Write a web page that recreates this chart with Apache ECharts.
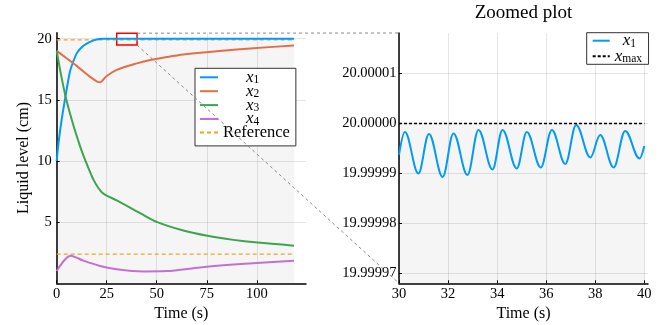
<!DOCTYPE html>
<html><head><meta charset="utf-8">
<script src="https://cdn.jsdelivr.net/npm/echarts@6/dist/echarts.min.js"></script>
<style>html,body{margin:0;padding:0;background:#fff}#c{width:665px;height:325px}</style>
</head><body><div id="c"></div>
<script>
const FONT = 'Liberation Serif';

// ---- Left plot data (Time s, level cm) ----
const tX1 = [0, 1, 2.5, 4.2, 6.6, 8, 10, 12.5, 15, 17.5, 20, 23, 30, 118.6];
const vX1 = [10, 11.6, 13.4, 15.1, 17.3, 18.0, 18.8, 19.3, 19.6, 19.8, 19.93, 19.99, 20, 20];
const tX2 = [0, 5, 10, 16.6, 20, 21.7, 23, 25, 30, 40, 46.7, 55, 63.3, 80, 96.7, 118.6];
const vX2 = [19.0, 18.4, 17.78, 16.9, 16.52, 16.44, 16.6, 16.95, 17.45, 17.98, 18.25, 18.5, 18.71, 18.98, 19.2, 19.45];
const tX3 = [0, 2, 4.4, 8, 11.7, 14.2, 18.3, 21, 22.8, 25, 30, 41.7, 50.3, 63.3, 75.3, 88.3, 100.3, 118.6];
const vX3 = [19.0, 17.2, 15.3, 13.1, 11.2, 10.1, 8.5, 7.75, 7.4, 7.17, 6.78, 5.74, 5.0, 4.31, 3.88, 3.55, 3.33, 3.08];
const tX4 = [0, 7, 13.3, 21.7, 30, 43.3, 55, 71.7, 88.3, 100, 118.6];
const vX4 = [1.0, 2.26, 1.85, 1.42, 1.15, 0.97, 1.0, 1.3, 1.53, 1.66, 1.84];
const tRef = [0, 118.6];
const refUpper = [19.9, 19.9];
const refLower = [2.38, 2.38];
const xMaxLevel = 20;
const leftXTicks = [0, 25, 50, 75, 100];
const leftYTicks = [5, 10, 15, 20];

// ---- Zoomed plot data (peaks / troughs) ----
const zoomT = [30, 30.24, 30.79, 31.22, 31.78, 32.22, 32.79, 33.24, 33.81, 34.22, 34.8, 35.21, 35.78, 36.23, 36.78, 37.22, 37.8, 38.2, 38.75, 39.22, 39.8, 40];
const zoomX1 = [19.9999937, 19.9999983, 19.99999, 19.9999979, 19.9999893, 19.999998, 19.9999897, 19.9999987, 19.9999908, 19.9999987, 19.999991, 19.9999983, 19.9999912, 19.9999987, 19.9999919, 19.9999997, 19.9999932, 19.9999977, 19.9999912, 19.9999985, 19.999993, 19.9999955];
const zoomTRange = [30, 40];
const zoomXTicks = [30, 32, 34, 36, 38, 40];
const zoomYTicks = [19.99997, 19.99998, 19.99999, 20.00000, 20.00001];
const zoomBox = { t0: 30, t1: 40.15, y0: 19.48, y1: 20.45 };

const pairs = (a, b) => a.map((v, i) => [v, b[i]]);
const colors = ['#009AFA', '#E36F47', '#3EA44E', '#C271D2'];
const refColor = '#EFA51E';

const chart = echarts.init(document.getElementById('c'), null, { renderer: 'canvas' });

const axisCommon = {
  axisLine: { show: true, onZero: false, lineStyle: { color: '#000', width: 1.5 } },
  axisTick: { show: true, inside: true, length: 3, lineStyle: { color: '#000', width: 1 } },
  splitLine: { show: true, lineStyle: { color: 'rgba(0,0,0,0.1)', width: 1 } },
  nameTextStyle: { fontFamily: FONT, fontSize: 16, color: '#000' },
};
const lab = (extra) => Object.assign({ fontFamily: FONT, fontSize: 14.5, color: '#000' }, extra);

const rich = {
  pad: { width: 23, lineHeight: 8 },
  padz: { width: 8, lineHeight: 8 },
  it: { fontFamily: FONT, fontStyle: 'italic', fontSize: 17, lineHeight: 8, color: '#000' },
  sub: { fontFamily: FONT, fontSize: 11.5, lineHeight: 4, padding: [6, 0, 0, 0], color: '#000' },
  rm: { fontFamily: FONT, fontSize: 16.5, lineHeight: 10, color: '#000' },
};
const legendText = {
  x1: '{pad|}{it|x}{sub|1}', x2: '{pad|}{it|x}{sub|2}', x3: '{pad|}{it|x}{sub|3}', x4: '{pad|}{it|x}{sub|4}',
  Reference: '{rm|Reference}', x1z: '{padz|}{it|x}{sub|1}', xmax: '{it|x}{sub|max}'
};

const lineSeries = (name, data, color, xi, extra) => Object.assign({
  name, type: 'line', xAxisIndex: xi, yAxisIndex: xi, data, symbol: 'none', showSymbol: false,
  smooth: 0.3, lineStyle: { color, width: 2 }, itemStyle: { color }, z: 3, silent: true
}, extra || {});

const legendBase = {
  orient: 'vertical', backgroundColor: '#fff', borderColor: '#333', borderWidth: 1, borderRadius: 0,
  selectedMode: false, formatter: n => legendText[n],
  itemStyle: { opacity: 0 },
  textStyle: { fontFamily: FONT, fontSize: 16.5, lineHeight: 10, color: '#000', rich }
};

const option = {
  animation: false,
  backgroundColor: '#fff',
  grid: [
    { left: 56.7, top: 32.7, width: 249.3, height: 250.6, containLabel: false, outerBoundsMode: 'none' },
    { left: 399, top: 33, width: 249, height: 250.3, containLabel: false, outerBoundsMode: 'none' }
  ],
  xAxis: [
    Object.assign({}, axisCommon, {
      type: 'value', gridIndex: 0, min: 0, max: 124.6,
      name: 'Time (s)', nameLocation: 'middle', nameGap: 18,
      axisLabel: lab({ margin: 3, customValues: leftXTicks }),
      axisTick: Object.assign({}, axisCommon.axisTick, { customValues: leftXTicks }),
    }),
    Object.assign({}, axisCommon, {
      type: 'value', gridIndex: 1, min: 30, max: 40.15,
      name: 'Time (s)', nameLocation: 'middle', nameGap: 18,
      axisLabel: lab({ margin: 3, customValues: zoomXTicks }),
      axisTick: Object.assign({}, axisCommon.axisTick, { customValues: zoomXTicks }),
    })
  ],
  yAxis: [
    Object.assign({}, axisCommon, {
      type: 'value', gridIndex: 0, min: 0, max: 20.49,
      name: 'Liquid level (cm)', nameLocation: 'middle', nameGap: 25,
      axisLabel: lab({ margin: 5, customValues: leftYTicks }),
      axisTick: Object.assign({}, axisCommon.axisTick, { customValues: leftYTicks }),
    }),
    Object.assign({}, axisCommon, {
      type: 'value', gridIndex: 1, min: 19.999968, max: 20.0000181, scale: true,
      axisLabel: lab({ margin: 2.5, customValues: zoomYTicks, formatter: v => Number(v).toFixed(5) }),
      axisTick: Object.assign({}, axisCommon.axisTick, { customValues: zoomYTicks }),
    })
  ],
  legend: [
    Object.assign({}, legendBase, {
      data: ['x1', 'x2', 'x3', 'x4', 'Reference'], left: 195, top: 68.3,
      itemWidth: 18, itemHeight: 13.9, itemGap: -4.1, padding: [0, 6, 5, 4]
    }),
    Object.assign({}, legendBase, {
      data: ['x1z', 'xmax'], left: 586.7, top: 32.7,
      itemWidth: 17, itemHeight: 15.6, itemGap: -2.4, padding: [-1, 6.5, -1, 5]
    })
  ],
  series: [
    {
      name: 'fillL', type: 'line', xAxisIndex: 0, yAxisIndex: 0, symbol: 'none', silent: true, z: 1,
      data: pairs(tRef, [xMaxLevel, xMaxLevel]), lineStyle: { width: 0, opacity: 0 },
      areaStyle: { color: 'rgba(0,0,0,0.055)', origin: 'start' }
    },
    lineSeries('x1', pairs(tX1, vX1), colors[0], 0, {
      markArea: {
        silent: true,
        itemStyle: { color: 'rgba(0,0,0,0)', borderColor: '#FF0000', borderWidth: 1.5 },
        data: [[{ coord: [zoomBox.t0, zoomBox.y0] }, { coord: [zoomBox.t1, zoomBox.y1] }]]
      }
    }),
    lineSeries('x2', pairs(tX2, vX2), colors[1], 0),
    lineSeries('x3', pairs(tX3, vX3), colors[2], 0),
    lineSeries('x4', pairs(tX4, vX4), colors[3], 0),
    lineSeries('Reference', pairs(tRef, refUpper), refColor, 0, { smooth: false, z: 2, lineStyle: { color: refColor, width: 1.3, type: [4, 3] } }),
    lineSeries('Reference', pairs(tRef, refLower), refColor, 0, { smooth: false, z: 2, lineStyle: { color: refColor, width: 1.3, type: [4, 3] } }),
    {
      name: 'fillR', type: 'line', xAxisIndex: 1, yAxisIndex: 1, symbol: 'none', silent: true, z: 1,
      data: pairs(zoomTRange, [xMaxLevel, xMaxLevel]), lineStyle: { width: 0, opacity: 0 },
      areaStyle: { color: 'rgba(0,0,0,0.055)', origin: 'start' }
    },
    lineSeries('x1z', pairs(zoomT, zoomX1), colors[0], 1, { smooth: 0.37, smoothMonotone: 'x' }),
    lineSeries('xmax', pairs(zoomTRange, [xMaxLevel, xMaxLevel]), '#000', 1, { smooth: false, z: 4, lineStyle: { color: '#000', width: 1.5, type: [3, 2] } })
  ]
};
chart.setOption(option);

// connector lines & title computed through the coordinate systems
const pTop = chart.convertToPixel({ gridIndex: 0 }, [zoomBox.t1, zoomBox.y1]);
const pBot = chart.convertToPixel({ gridIndex: 0 }, [zoomBox.t1, zoomBox.y0]);
const qTop = chart.convertToPixel({ gridIndex: 1 }, [30, 20.0000181]);
const qBot = chart.convertToPixel({ gridIndex: 1 }, [30, 19.999968]);
const qRight = chart.convertToPixel({ gridIndex: 1 }, [40.15, 20.0000181]);
const dash = { stroke: '#888', lineWidth: 1, lineDash: [3, 3] };
chart.setOption({
  graphic: [
    { type: 'line', silent: true, z: 10, shape: { x1: pTop[0], y1: pTop[1], x2: qTop[0], y2: qTop[1] }, style: dash },
    { type: 'line', silent: true, z: 10, shape: { x1: pBot[0], y1: pBot[1], x2: qBot[0], y2: qBot[1] }, style: dash },
    { type: 'text', silent: true, z: 10, x: (qTop[0] + qRight[0]) / 2, y: 13.3,
      style: { text: 'Zoomed plot', fontFamily: FONT, fontSize: 19, fill: '#000', align: 'center', verticalAlign: 'middle' } }
  ]
});
</script></body></html>
